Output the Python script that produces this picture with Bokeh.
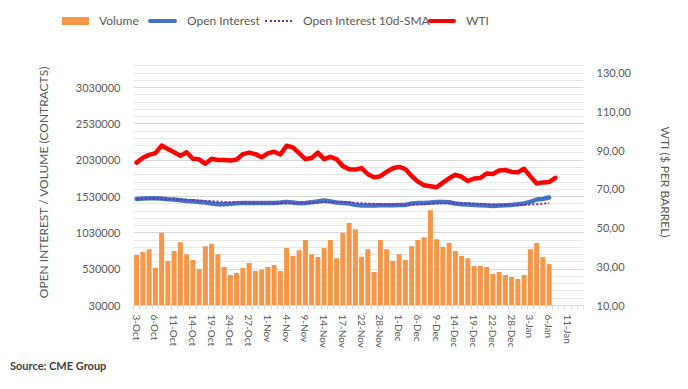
from bokeh.plotting import figure
from bokeh.layouts import column
from bokeh.models import Range1d, LinearAxis, FixedTicker, Div
from bokeh.embed import file_html
from bokeh.resources import INLINE

# ---------------- data ----------------
dates = [
    "3-Oct", "4-Oct", "5-Oct", "6-Oct", "7-Oct", "10-Oct", "11-Oct", "12-Oct", "13-Oct", "14-Oct",
    "17-Oct", "18-Oct", "19-Oct", "20-Oct", "21-Oct", "24-Oct", "25-Oct", "26-Oct", "27-Oct", "28-Oct",
    "31-Oct", "1-Nov", "2-Nov", "3-Nov", "4-Nov", "7-Nov", "8-Nov", "9-Nov", "10-Nov", "11-Nov",
    "14-Nov", "15-Nov", "16-Nov", "17-Nov", "18-Nov", "21-Nov", "22-Nov", "23-Nov", "25-Nov", "28-Nov",
    "29-Nov", "30-Nov", "1-Dec", "2-Dec", "5-Dec", "6-Dec", "7-Dec", "8-Dec", "9-Dec", "12-Dec",
    "13-Dec", "14-Dec", "15-Dec", "16-Dec", "19-Dec", "20-Dec", "21-Dec", "22-Dec", "23-Dec", "27-Dec",
    "28-Dec", "29-Dec", "30-Dec", "3-Jan", "4-Jan", "5-Jan", "6-Jan", "9-Jan", "10-Jan", "11-Jan",
    "12-Jan", "13-Jan",
]

volume = [
    724000, 765000, 806000, 545000, 1030000, 641000, 779000, 902000, 737000, 655000,
    531000, 847000, 875000, 737000, 559000, 449000, 476000, 545000, 614000, 504000,
    522000, 559000, 586000, 504000, 820000, 710000, 792000, 930000, 737000, 696000,
    820000, 930000, 682000, 1030000, 1167000, 1081000, 700000, 806000, 490000, 930000,
    806000, 641000, 737000, 655000, 847000, 930000, 971000, 1342000, 943000, 834000,
    889000, 779000, 710000, 682000, 573000, 573000, 559000, 463000, 490000, 449000,
    421000, 394000, 449000, 806000, 889000, 696000, 600000,
]

open_interest = [
    1497000, 1503000, 1507000, 1507000, 1503000, 1493000, 1489000, 1479000, 1470000, 1465000,
    1456000, 1447000, 1434000, 1424000, 1424000, 1429000, 1438000, 1442000, 1442000, 1442000,
    1442000, 1442000, 1442000, 1447000, 1456000, 1447000, 1438000, 1442000, 1452000, 1461000,
    1475000, 1461000, 1447000, 1442000, 1434000, 1415000, 1406000, 1406000, 1406000, 1411000,
    1411000, 1411000, 1415000, 1415000, 1434000, 1442000, 1442000, 1447000, 1456000, 1456000,
    1452000, 1434000, 1424000, 1420000, 1415000, 1411000, 1406000, 1401000, 1406000, 1411000,
    1415000, 1424000, 1434000, 1456000, 1489000, 1497000, 1516000,
]

oi_sma_10d = [
    1497000, 1500000, 1503000, 1500000, 1497000, 1495000, 1493000, 1488000, 1484000, 1480000,
    1475000, 1470000, 1465000, 1460000, 1456000, 1451000, 1447000, 1444000, 1442000, 1440000,
    1438000, 1438000, 1438000, 1440000, 1442000, 1442000, 1442000, 1445000, 1447000, 1450000,
    1452000, 1454000, 1456000, 1454000, 1452000, 1445000, 1438000, 1433000, 1429000, 1424000,
    1420000, 1417000, 1415000, 1417000, 1420000, 1422000, 1424000, 1429000, 1434000, 1436000,
    1438000, 1438000, 1438000, 1436000, 1434000, 1429000, 1424000, 1420000, 1415000, 1413000,
    1411000, 1413000, 1415000, 1420000, 1424000, 1431000, 1438000,
]

wti = [
    83.8, 86.3, 87.8, 88.7, 92.6, 90.9, 89.2, 87.3, 89.2, 85.8,
    85.5, 83.2, 85.8, 85.2, 85.2, 84.9, 85.4, 88.2, 89.0, 88.2,
    86.6, 88.6, 89.4, 88.0, 92.5, 91.7, 88.7, 85.6, 86.2, 89.0,
    85.6, 86.8, 85.6, 82.0, 80.4, 80.2, 81.0, 77.8, 76.2, 76.8,
    79.0, 80.9, 81.6, 80.5, 76.9, 74.0, 72.1, 71.6, 71.1, 73.5,
    75.7, 77.5, 76.5, 74.3, 75.6, 75.9, 78.2, 77.9, 79.7, 80.0,
    79.0, 78.8, 80.6, 76.7, 73.0, 73.6, 73.8, 75.9,
]

left_ticks = [30000, 530000, 1030000, 1530000, 2030000, 2530000, 3030000]
left_tick_labels = ["30000", "530000", "1030000", "1530000", "2030000", "2530000", "3030000"]
right_ticks = [10, 30, 50, 70, 90, 110, 130]
right_tick_labels = ["10,00", "30,00", "50,00", "70,00", "90,00", "110,00", "130,00"]

series_names = ["Volume", "Open Interest", "Open Interest 10d-SMA", "WTI"]
source_text = "Source: CME Group"

FONT = "Lato"
TXT = "#595959"
C_VOL, C_OI, C_SMA, C_WTI = "#F79646", "#4472C4", "#7030A0", "#FF0000"
W = 680

# ---------------- legend strip (HTML) ----------------
swatches = [
    (62, f"top:17px;width:27px;height:8px;background:{C_VOL};"),
    (148, f"top:19px;width:29px;height:4px;border-radius:2px;background:{C_OI};"),
    (265, f"top:20px;width:27px;height:0;border-top:2px dotted {C_SMA};"),
    (428, f"top:19px;width:28px;height:4px;border-radius:2px;background:{C_WTI};"),
]
label_x = [99, 187, 303, 466]
parts = []
for (sx, sstyle), lx, name in zip(swatches, label_x, series_names):
    parts.append(f'<span style="position:absolute;left:{sx}px;{sstyle}"></span>')
    parts.append(f'<span style="position:absolute;left:{lx}px;top:12px;line-height:18px;'
                 f'white-space:nowrap;">{name}</span>')
legend_html = (f'<div style="position:relative;width:{W}px;height:40px;font-family:{FONT};'
               f'font-size:12px;color:{TXT};">' + "".join(parts) + "</div>")
top = Div(text=legend_html, width=W, height=40, margin=(0, 0, 0, 0))

# ---------------- main chart ----------------
n = len(dates)
p = figure(width=W, height=315, output_backend="svg", toolbar_location=None,
           x_range=Range1d(-0.5, n - 0.5), y_range=Range1d(30000, 3430000),
           min_border_left=133, min_border_right=97, min_border_top=18, min_border_bottom=50)
p.extra_y_ranges = {"wti": Range1d(10, 137.6)}
p.outline_line_color = None
p.background_fill_color = "white"
p.border_fill_color = "white"

x_vol = list(range(len(volume)))
x_oi = list(range(len(open_interest)))
x_sma = list(range(len(oi_sma_10d)))
x_wti = list(range(len(wti)))

p.vbar(x=x_vol, top=volume, bottom=30000, width=0.8, fill_color=C_VOL, line_color=None)
p.line(x_oi, open_interest, line_color=C_OI, line_width=4.5, line_cap="round", line_join="round")
p.line(x_sma, oi_sma_10d, line_color=C_SMA, line_width=2, line_dash="2 2")
p.line(x_wti, wti, y_range_name="wti", line_color=C_WTI, line_width=4.5,
       line_cap="round", line_join="round")

# grid
p.xgrid.visible = False
p.ygrid.ticker = FixedTicker(ticks=left_ticks,
                             minor_ticks=list(range(30000, 3430001, 100000)))
p.ygrid.grid_line_color = "#d9d9d9"
p.ygrid.minor_grid_line_color = "#e8e8e8"

# x axis
xa = p.xaxis[0]
xa.ticker = FixedTicker(ticks=list(range(0, n, 3)),
                        minor_ticks=[k - 0.5 for k in range(n + 1)])
xa.major_label_overrides = {i: dates[i] for i in range(0, n, 3)}
xa.major_label_orientation = "vertical"
xa.major_tick_line_color = None
xa.major_tick_out = 0
xa.major_tick_in = 0
xa.minor_tick_line_color = "#d9d9d9"
xa.minor_tick_out = 4
xa.minor_tick_in = 0
xa.axis_line_color = "#d9d9d9"
xa.major_label_standoff = 5
xa.major_label_text_font = FONT
xa.major_label_text_font_size = "10px"
xa.major_label_text_color = TXT

# left axis
ya = p.yaxis[0]
ya.ticker = FixedTicker(ticks=left_ticks)
ya.major_label_overrides = dict(zip(left_ticks, left_tick_labels))
ya.axis_line_color = None
ya.major_tick_line_color = None
ya.minor_tick_line_color = None
ya.major_tick_out = 0
ya.major_label_standoff = 13
ya.major_label_text_font = FONT
ya.major_label_text_font_size = "11px"
ya.major_label_text_color = TXT
ya.axis_label = "OPEN INTEREST / VOLUME (CONTRACTS)"
ya.axis_label_text_font = FONT
ya.axis_label_text_font_size = "12px"
ya.axis_label_text_font_style = "normal"
ya.axis_label_text_color = TXT
ya.axis_label_standoff = 22

# right axis
ra = LinearAxis(y_range_name="wti", ticker=FixedTicker(ticks=right_ticks),
                major_label_overrides=dict(zip(right_ticks, right_tick_labels)))
ra.axis_line_color = None
ra.major_tick_line_color = None
ra.minor_tick_line_color = None
ra.major_tick_out = 0
ra.major_label_standoff = 13
ra.major_label_text_font = FONT
ra.major_label_text_font_size = "11px"
ra.major_label_text_color = TXT
ra.axis_label = "WTI ($ PER BARREL)"
ra.axis_label_text_font = FONT
ra.axis_label_text_font_size = "12px"
ra.axis_label_text_font_style = "normal"
ra.axis_label_text_color = TXT
ra.axis_label_standoff = 24
p.add_layout(ra, "right")

# ---------------- source strip (HTML) ----------------
source_html = (f'<div style="position:relative;width:{W}px;height:26px;font-family:{FONT};'
               f'font-size:11px;font-weight:bold;color:#404040;">'
               f'<span style="position:absolute;left:10px;top:3px;line-height:16px;'
               f'white-space:nowrap;">{source_text}</span></div>')
bottom = Div(text=source_html, width=W, height=26, margin=(0, 0, 0, 0))

layout = column(top, p, bottom, spacing=0)
open("out.html", "w").write(file_html(layout, INLINE))
